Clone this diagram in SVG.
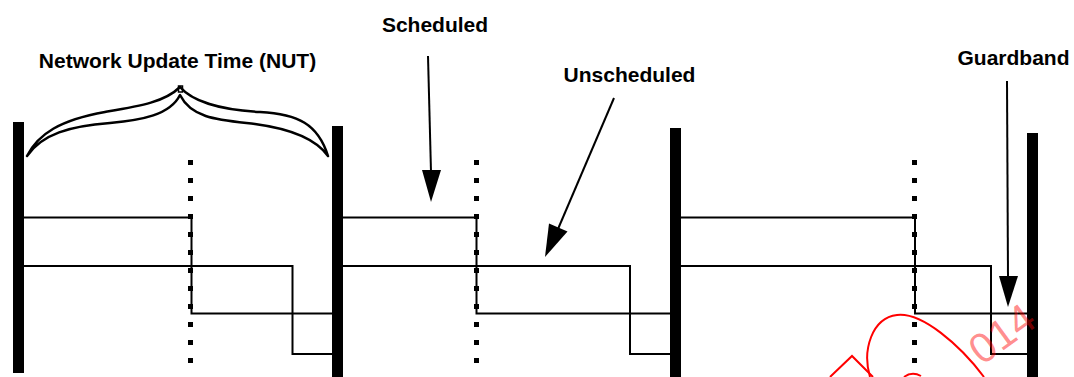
<svg xmlns="http://www.w3.org/2000/svg" width="1074" height="377" viewBox="0 0 1074 377">
<defs>
<style>
.bar{fill:#000}
.dots{stroke:#000;stroke-width:5;stroke-dasharray:5 13;fill:none}
.sig{stroke:#000;stroke-width:2;fill:none;stroke-linejoin:miter}
.arr{stroke:#000;stroke-width:2;fill:none}
.head{fill:#000}
.lbl{font-family:"Liberation Sans",Arial,sans-serif;font-weight:bold;font-size:21px;fill:#000;text-anchor:middle}
.brace{stroke:#000;stroke-width:2.5;fill:none;stroke-linejoin:round}
</style>
</defs>
<rect width="1074" height="377" fill="#fff"/>

<g id="bar1"><rect class="bar" x="13" y="122" width="11" height="251"/></g>
<g id="bar2"><rect class="bar" x="332" y="126" width="11" height="251"/></g>
<g id="bar3"><rect class="bar" x="670" y="128" width="11" height="249"/></g>
<g id="bar4"><rect class="bar" x="1027" y="133" width="11" height="244"/></g>

<g id="dots1"><line class="dots" x1="190.5" y1="160" x2="190.5" y2="365"/></g>
<g id="dots2"><line class="dots" x1="476.5" y1="160" x2="476.5" y2="365"/></g>
<g id="dots3"><line class="dots" x1="914.5" y1="160" x2="914.5" y2="365"/></g>

<g id="nut">
<path class="brace" d="M27,156 C38,134 60,120 105,112 C140,106 165,102 180,87 C192,101 220,110 260,112 C298,114 318,124 328,156 C316,139 292,129 255,124 C220,120 192,119 180,95 C170,115 142,120 110,123 C70,126 42,134 27,156 Z"/>
<rect x="178.5" y="86" width="4" height="6" fill="none" stroke="#000" stroke-width="1.5"/>
<text class="lbl" x="177.5" y="68">Network Update Time (NUT)</text>
</g>

<g id="lbl-scheduled"><text class="lbl" x="435" y="32">Scheduled</text></g>
<g id="lbl-unscheduled"><text class="lbl" x="629.5" y="82">Unscheduled</text></g>
<g id="lbl-guardband"><text class="lbl" x="1013.5" y="65">Guardband</text></g>

<g id="connectors">
<polyline class="sig" points="24,217.5 191.5,217.5 191.5,313.5 332,313.5"/>
<polyline class="sig" points="24,266 292.5,266 292.5,354 332,354"/>
<polyline class="sig" points="343,217.5 476.5,217.5 476.5,313.5 670,313.5"/>
<polyline class="sig" points="343,266 630,266 630,354 670,354"/>
<polyline class="sig" points="681,217.5 915,217.5 915,313.5 1027,313.5"/>
<polyline class="sig" points="681,266 991,266 991,354 1027,354"/>

<line class="arr" x1="428" y1="56" x2="431" y2="172"/>
<polygon class="head" points="422,170 441,170 431,202"/>
<line class="arr" x1="614" y1="98" x2="558" y2="229"/>
<polygon class="head" points="549,223.5 567.5,231.5 545,257"/>
<line class="arr" x1="1007" y1="81" x2="1008" y2="278"/>
<polygon class="head" points="999,276 1018,276 1008,307"/>
</g>

<g id="stamp">
<path d="M830,377 L852,356 L873,377" fill="none" stroke="#f00" stroke-width="2"/>
<path d="M870,377 C862,350 872,318 897,315 C922,312 960,345 984,377" fill="none" stroke="#f00" stroke-width="2"/>
<path d="M904,377 Q912,371 921,376" fill="none" stroke="#f00" stroke-width="2"/>
<text x="982" y="366" transform="rotate(-36 982 366)" font-family="Liberation Sans,Arial,sans-serif" font-size="42" fill="#f00" fill-opacity="0.45">014</text>
</g>
</svg>
